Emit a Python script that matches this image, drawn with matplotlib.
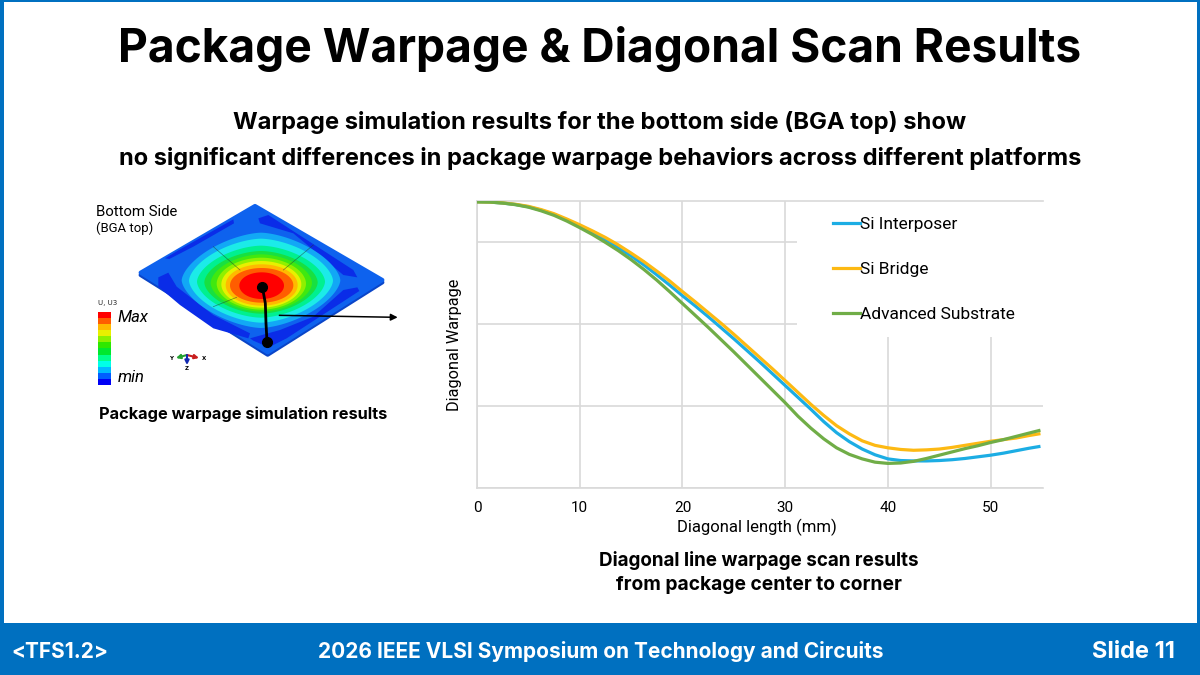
import numpy as np
import matplotlib
matplotlib.use("Agg")
import matplotlib.pyplot as plt
from matplotlib.patches import Polygon, Rectangle

# chart data
diagonal_mm = [0, 1.25, 2.5, 3.75, 5, 6.25, 7.5, 8.75, 10, 11.25, 12.5, 13.75, 15, 16.25, 17.5, 18.75,
               20, 21.25, 22.5, 23.75, 25, 26.25, 27.5, 28.75, 30, 31.25, 32.5, 33.75, 35, 36.25, 37.5, 38.75,
               40, 41.25, 42.5, 43.75, 45, 46.25, 47.5, 48.75, 50, 51.25, 52.5, 53.75, 54.7]
si_interposer = [3.49, 3.487, 3.475, 3.457, 3.43, 3.388, 3.335, 3.268, 3.19, 3.11, 3.025, 2.93, 2.83, 2.72, 2.60, 2.475,
                 2.345, 2.22, 2.09, 1.955, 1.82, 1.68, 1.54, 1.395, 1.25, 1.105, 0.96, 0.81, 0.675, 0.565, 0.475, 0.405,
                 0.355, 0.335, 0.33, 0.33, 0.335, 0.345, 0.36, 0.38, 0.40, 0.425, 0.455, 0.485, 0.505]
si_bridge = [3.49, 3.487, 3.477, 3.46, 3.435, 3.395, 3.345, 3.28, 3.21, 3.135, 3.055, 2.965, 2.865, 2.76, 2.645, 2.525,
             2.395, 2.27, 2.14, 2.01, 1.875, 1.735, 1.595, 1.455, 1.31, 1.165, 1.02, 0.885, 0.76, 0.66, 0.575, 0.52,
             0.49, 0.47, 0.46, 0.465, 0.475, 0.495, 0.52, 0.545, 0.57, 0.59, 0.61, 0.64, 0.66]
adv_substrate = [3.49, 3.487, 3.475, 3.455, 3.425, 3.38, 3.325, 3.255, 3.175, 3.09, 2.995, 2.895, 2.785, 2.665, 2.535, 2.395,
                 2.25, 2.105, 1.96, 1.81, 1.66, 1.505, 1.35, 1.195, 1.04, 0.875, 0.73, 0.60, 0.49, 0.41, 0.355, 0.315,
                 0.30, 0.305, 0.325, 0.36, 0.40, 0.44, 0.48, 0.515, 0.555, 0.59, 0.63, 0.67, 0.70]
x_ticks = [0, 10, 20, 30, 40, 50]
y_grid = [0, 1, 2, 3]

# colour scale of the simulation legend, bottom to top
scale_colors = ["#0000F5", "#005DFF", "#00B9FF", "#00FFE8", "#00FF8B", "#00E82E",
                "#2EE800", "#8BF000", "#E8F000", "#FFB900", "#FF5D00", "#FF0000"]
# contour bands on the package (zoomed pixels): colour, cx, cy, half width, half height, exponent
bands = [("#12A8F5", 543, 271, 238, 143, 1.6),
         ("#1CEBE8", 543, 272, 216, 126, 1.65),
         ("#00F090", 543, 275, 192, 108, 1.7),
         ("#18E040", 543, 277, 170, 94, 1.75),
         ("#40E810", 544, 279, 152, 86, 1.8),
         ("#90F000", 544, 281, 134, 78, 1.9),
         ("#E8F000", 544, 283, 120, 70, 1.95),
         ("#FFB900", 545, 285, 108, 62, 2.0),
         ("#FF5D00", 545, 286, 95, 52, 2.0),
         ("#FF0000", 545, 287, 67, 40, 2.0)]

BLUE = "#0070C0"
BOLD_FONT = "Inter"
TEXT_FONT = "Roboto"

fig = plt.figure(figsize=(12, 6.75), dpi=100, facecolor="white")
renderer = fig.canvas.get_renderer()

# full-slide axes in pixel coordinates
bg = fig.add_axes([0, 0, 1, 1])
bg.set_xlim(0, 1200)
bg.set_ylim(675, 0)
bg.axis("off")


def fit_text(t, target):
    # scale the font so the text spans target pixels
    box = t.get_window_extent(renderer)
    t.set_fontsize(t.get_fontsize() * target / max(box.width, box.height))
    return t


def bold_text(x, y, s, width, ha="center", color="black"):
    t = bg.text(x, y, s, ha=ha, va="center", fontsize=14, fontweight="bold", family=BOLD_FONT, color=color)
    return fit_text(t, width)


def zp(x, y):
    # first zoom crop back to slide pixels
    return (80 + x / 3, 190 + y / 3)


def zpoly(pts, **kw):
    bg.add_patch(Polygon([zp(*p) for p in pts], closed=True, **kw))


# slide frame and footer
bg.add_patch(Rectangle((0, 623), 1200, 52, color=BLUE, lw=0))
bg.add_patch(Rectangle((0, 0), 3.5, 675, color=BLUE, lw=0))
bg.add_patch(Rectangle((1197, 0), 3, 675, color=BLUE, lw=0))
bg.add_patch(Rectangle((0, 0), 1200, 2, color=BLUE, lw=0))

bold_text(600, 48.5, "Package Warpage & Diagonal Scan Results", 966)
bold_text(600, 122.5, "Warpage simulation results for the bottom side (BGA top) show", 734)
bold_text(600, 159, "no significant differences in package warpage behaviors across different platforms", 966)
bold_text(243, 414, "Package warpage simulation results", 290)
bold_text(759, 561, "Diagonal line warpage scan results", 321)
bold_text(759, 585, "from package center to corner", 286)
bold_text(11, 651.5, "<TFS1.2>", 97, ha="left", color="white")
bold_text(600.5, 651.5, "2026 IEEE VLSI Symposium on Technology and Circuits", 567, color="white")
bold_text(1175, 651.5, "Slide 11", 83, ha="right", color="white")

fit_text(bg.text(96, 212, "Bottom Side", ha="left", va="center", fontsize=10, family=TEXT_FONT), 81)
fit_text(bg.text(96, 228, "(BGA top)", ha="left", va="center", fontsize=10, family=TEXT_FONT), 57)

# package plate
outline = [(525, 48), (907, 270), (563, 487), (182, 248)]
zpoly([(x, y + 7) for x, y in outline], fc="#0A45C8", ec="#0A45C8", lw=3, joinstyle="round", zorder=2)
zpoly(outline, fc="#0E62EE", ec="#0E62EE", lw=3, joinstyle="round", zorder=3)
dark = "#0A2CE8"
zpoly([(535, 85), (565, 75), (820, 240), (832, 262), (790, 255), (640, 130), (540, 100)], fc=dark, lw=0, zorder=4)
zpoly([(255, 205), (300, 178), (460, 88), (462, 100), (340, 170), (268, 207)], fc=dark, lw=0, zorder=4)
zpoly([(235, 262), (265, 248), (290, 290), (400, 375), (510, 430), (505, 445), (400, 415), (300, 345), (235, 290)], fc=dark, lw=0, zorder=4)
zpoly([(510, 445), (600, 420), (700, 380), (790, 300), (832, 292), (838, 303), (620, 445), (566, 472), (520, 452)], fc=dark, lw=0, zorder=4)

t = np.linspace(0, 2 * np.pi, 200)
for col, cx, cy, a, b, p in bands:
    xs = cx + a * np.sign(np.cos(t)) * np.abs(np.cos(t)) ** (2 / p)
    ys = cy + b * np.sign(np.sin(t)) * np.abs(np.sin(t)) ** (2 / p)
    zpoly(list(zip(xs, ys)), fc=col, lw=0, zorder=5)

for a_pt, b_pt in [((400, 170), (480, 240)), ((700, 165), (610, 240)), ((400, 350), (470, 322))]:
    p0, p1 = zp(*a_pt), zp(*b_pt)
    bg.plot([p0[0], p1[0]], [p0[1], p1[1]], color="#204030", lw=0.5, alpha=0.6, zorder=6)

# centre-to-corner scan line and arrow
path = [zp(547, 290), zp(556, 340), zp(558, 400), zp(561, 455)]
bg.plot(*zip(*path), color="black", lw=2, zorder=7)
bg.plot(*zip(path[0], path[-1]), ls="none", marker="o", ms=7, color="black", zorder=7)
bg.annotate("", xy=zp(953, 382), xytext=zp(598, 376), zorder=7,
            arrowprops=dict(arrowstyle="-|>", lw=1.1, color="black", shrinkA=0, shrinkB=0))

# colour scale
for i, col in enumerate(scale_colors):
    bg.add_patch(Rectangle((97.7, 385 - (i + 1) * 6.1), 13, 6.1, fc=col, lw=0))
bg.text(98, 303, "U, U3", ha="left", va="center", fontsize=5, family="DejaVu Sans", color="#222222")
bg.text(118, 317, "Max", ha="left", va="center", fontsize=12, style="italic", family=TEXT_FONT)
bg.text(118, 377, "min", ha="left", va="center", fontsize=12, style="italic", family=TEXT_FONT)

# orientation triad
origin = (187, 355)
for tip, col in [((176, 358), "#22A030"), ((199, 358), "#C81E1E"), ((187, 365), "#1028B0")]:
    bg.annotate("", xy=tip, xytext=origin,
                arrowprops=dict(arrowstyle="-|>", lw=1.5, color=col, shrinkA=0, shrinkB=0, mutation_scale=6))
bg.text(171, 358, "Y", ha="center", va="center", fontsize=4, fontweight="bold")
bg.text(204, 358, "X", ha="center", va="center", fontsize=4, fontweight="bold")
bg.text(187, 369, "Z", ha="center", va="center", fontsize=4, fontweight="bold")

# line chart
ax = fig.add_axes([477 / 1200, 1 - 488 / 675, (1043 - 477) / 1200, (488 - 201) / 675])
ax.patch.set_alpha(0)
ax.set_xlim(0, 55.1)
ax.set_ylim(0, 3.5)
ax.set_xticks(x_ticks)
ax.set_yticks(y_grid)
ax.set_yticklabels([])
ax.tick_params(length=0, labelsize=11, pad=9)
for label in ax.get_xticklabels():
    label.set_family(TEXT_FONT)
ax.grid(True, color="#D9D9D9", lw=1.2)
ax.set_axisbelow(True)
for side in ["left", "bottom", "top"]:
    ax.spines[side].set_color("#D9D9D9")
    ax.spines[side].set_linewidth(1.2)
ax.spines["right"].set_visible(False)
fit_text(ax.set_xlabel("Diagonal length (mm)", fontsize=12, family=TEXT_FONT, labelpad=3), 159)
ax.xaxis.label.set_x((756.5 - 477) / 566)
fit_text(ax.set_ylabel("Diagonal Warpage", fontsize=12, family=TEXT_FONT, labelpad=2), 132)

# white block that hides the grid behind the legend
ax.add_patch(Rectangle((320 / 566, 151 / 287), 246 / 566, 136 / 287, transform=ax.transAxes, fc="white", lw=0, zorder=1))

ax.plot(diagonal_mm, si_interposer, color="#1CADE4", lw=2.3, label="Si Interposer", zorder=3)
ax.plot(diagonal_mm, si_bridge, color="#FDB913", lw=2.3, label="Si Bridge", zorder=3)
ax.plot(diagonal_mm, adv_substrate, color="#70AD47", lw=2.3, label="Advanced Substrate", zorder=4)

ax.legend(loc="upper left", bbox_to_anchor=(0.629, 0.946), frameon=False,
          labelspacing=1.72, handlelength=1.56, handletextpad=0, borderpad=0, borderaxespad=0,
          prop={"family": TEXT_FONT, "size": 12.5})

fig.savefig("out.png", dpi=100)
